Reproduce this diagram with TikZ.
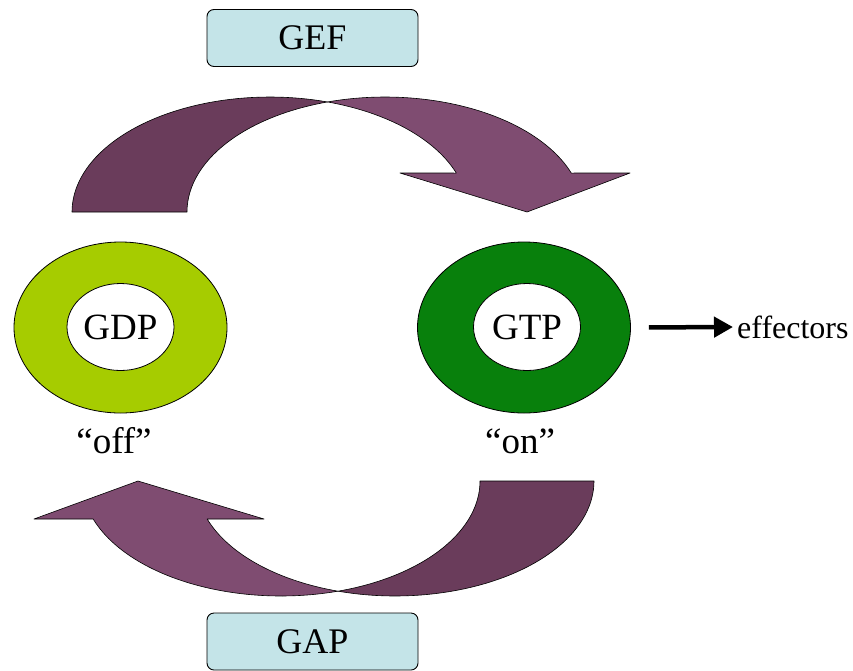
\documentclass[tikz,border=0pt]{standalone}
\usepackage{fontspec}
\setmainfont{Liberation Serif}
\usepackage{tikz}
\usetikzlibrary{shapes.geometric, arrows.meta, positioning}

\definecolor{bandback}{RGB}{106,60,91}
\definecolor{bandfront}{RGB}{127,76,113}
\definecolor{gdpgreen}{RGB}{166,204,0}
\definecolor{gtpgreen}{RGB}{8,128,12}
\definecolor{enzymecyan}{RGB}{196,228,232}

\begin{document}
\begin{tikzpicture}[
  x=1pt, y=-1pt,
  enzyme/.style={rectangle, draw, rounded corners=7pt, line width=0.9pt,
    fill=enzymecyan, minimum width=211pt, minimum height=57pt,
    inner sep=0pt, font=\fontsize{36}{40}\selectfont},
  ring/.style={ellipse, draw, line width=0.8pt, minimum width=213pt,
    minimum height=171pt, inner sep=0pt},
  core/.style={ellipse, draw, line width=0.8pt, fill=white,
    minimum width=107pt, minimum height=87pt, inner sep=0pt,
    font=\fontsize{37}{40}\selectfont},
  state/.style={font=\fontsize{37}{40}\selectfont, inner sep=0pt, anchor=base},
  back/.style={fill=bandback, draw=black, line width=0.6pt, line join=round},
  front/.style={fill=bandfront, draw=black, line width=0.6pt, line join=round},
  effect/.style={line width=4.5pt, -{Triangle[length=19pt, width=20pt]}}
]
  \useasboundingbox (0,0) rectangle (853,670);

  % Exchange and hydrolysis enzymes.
  \node[enzyme] (gef) at (312.5,38) {GEF};
  \node[enzyme] (gap) at (312.5,641.5) {GAP};

  % Inactive and active switch states.
  \node[ring, fill=gdpgreen] (gdpring) at (120.5,327.5) {};
  \node[core] (gdp) at (120.5,327) {GDP};
  \node[ring, fill=gtpgreen] (gtpring) at (524,327.5) {};
  \node[core] (gtp) at (527,327) {GTP};
  \node[state] (off) at (114,453) {“off”};
  \node[state] (on) at (520,453) {“on”};

  % Downstream signal.
  \node[anchor=west, inner sep=0pt, font=\fontsize{32}{36}\selectfont]
    (effectors) at (737,327) {effectors};
  \draw[effect, shorten <=18pt, shorten >=4pt] (gtpring.east) -- (effectors.west);

  % Upper curved arrow: GDP to GTP.
  \filldraw[back]
    plot[domain=-180:-73.1, samples=50] ({270+198*cos(\x)},{212+115*sin(\x)})
    -- plot[domain=-106.9:-180, samples=50] ({385+198*cos(\x)},{212+115*sin(\x)})
    -- cycle;
  \filldraw[front]
    plot[domain=-106.9:-19.8, samples=50] ({385+198*cos(\x)},{212+115*sin(\x)})
    -- (630,173) -- (527,212) -- (400,173)
    -- plot[domain=-19.8:-73.1, samples=50] ({270+198*cos(\x)},{212+115*sin(\x)})
    -- cycle;

  % Lower curved arrow: GTP back to GDP.
  \filldraw[back]
    plot[domain=0:106.6, samples=50] ({395+199*cos(\x)},{481+115*sin(\x)})
    -- plot[domain=73.4:0, samples=50] ({281+199*cos(\x)},{481+115*sin(\x)})
    -- cycle;
  \filldraw[front]
    plot[domain=73.4:160.7, samples=50] ({281+199*cos(\x)},{481+115*sin(\x)})
    -- (34,519) -- (138,481) -- (264,519)
    -- plot[domain=160.7:106.6, samples=50] ({395+199*cos(\x)},{481+115*sin(\x)})
    -- cycle;
\end{tikzpicture}
\end{document}
